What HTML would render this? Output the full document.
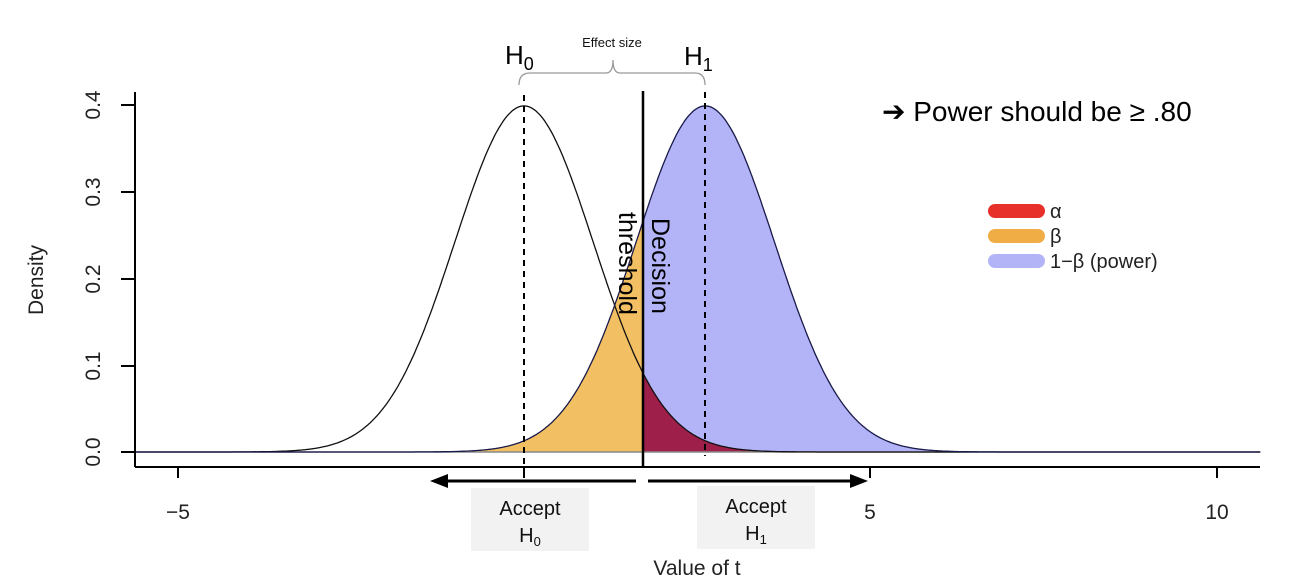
<!DOCTYPE html>
<html><head><meta charset="utf-8"><style>
body{margin:0;background:#fff;}
svg{display:block;font-family:"Liberation Sans",Arial,sans-serif;}
</style></head><body>
<svg id="s" width="1292" height="584" viewBox="0 0 1292 584">
<g id="fills"></g>
<line x1="135" y1="452" x2="1260" y2="452" stroke="#888" stroke-width="1.5"/>
<g id="curves"></g>
<line x1="135" y1="92" x2="135" y2="467" stroke="#000" stroke-width="2"/>
<line x1="135" y1="467" x2="1260" y2="467" stroke="#000" stroke-width="2"/>
<g stroke="#000" stroke-width="2">
<line x1="121" y1="105" x2="135" y2="105"/><line x1="121" y1="192" x2="135" y2="192"/>
<line x1="121" y1="279" x2="135" y2="279"/><line x1="121" y1="366" x2="135" y2="366"/>
<line x1="121" y1="452" x2="135" y2="452"/>
<line x1="178" y1="467" x2="178" y2="478"/><line x1="524" y1="467" x2="524" y2="478"/>
<line x1="870" y1="467" x2="870" y2="478"/><line x1="1217" y1="467" x2="1217" y2="478"/>
</g>
<g font-size="21" fill="#222" text-anchor="middle">
<text transform="translate(100,105) rotate(-90)">0.4</text>
<text transform="translate(100,192) rotate(-90)">0.3</text>
<text transform="translate(100,279) rotate(-90)">0.2</text>
<text transform="translate(100,366) rotate(-90)">0.1</text>
<text transform="translate(100,452) rotate(-90)">0.0</text>
<text transform="translate(43,280) rotate(-90)">Density</text>
<text x="178" y="519">−5</text><text x="870" y="519">5</text><text x="1217" y="519">10</text>
<text x="697" y="575">Value of t</text>
</g>
<line x1="524" y1="95" x2="524" y2="480" stroke="#000" stroke-width="2" stroke-dasharray="6,5"/>
<line x1="705" y1="92" x2="705" y2="456" stroke="#000" stroke-width="2" stroke-dasharray="6,5"/>
<line x1="643" y1="91" x2="643" y2="467" stroke="#000" stroke-width="2.5"/>
<line x1="445" y1="481" x2="636" y2="481" stroke="#000" stroke-width="3"/>
<polygon points="430,481 448,474 448,488" fill="#000"/>
<line x1="648" y1="481" x2="852" y2="481" stroke="#000" stroke-width="3"/>
<polygon points="868,481 850,474 850,488" fill="#000"/>
<rect x="471" y="488" width="118" height="63" fill="#f2f2f2"/>
<rect x="697" y="486" width="118" height="63" fill="#f2f2f2"/>
<g font-size="20" fill="#111" text-anchor="middle">
<text x="530" y="515">Accept</text><text x="530" y="542">H<tspan font-size="13" dy="4">0</tspan></text>
<text x="756" y="513">Accept</text><text x="756" y="540">H<tspan font-size="13" dy="4">1</tspan></text>
</g>
<path d="M519,85 Q519,73 530,73 L606,73 Q613,73 613,60 Q613,73 620,73 L695,73 Q705,73 705,85" fill="none" stroke="#999" stroke-width="1.3"/>
<text x="612" y="47" font-size="13" text-anchor="middle" fill="#111">Effect size</text>
<text x="505" y="64" font-size="26" fill="#000">H<tspan font-size="18" dy="6">0</tspan></text>
<text x="684" y="65" font-size="26" fill="#000">H<tspan font-size="18" dy="6">1</tspan></text>
<text x="882" y="121" font-size="28" fill="#000">➔ Power should be ≥ .80</text>
<text transform="translate(652,218) rotate(90)" font-size="25" fill="#000">Decision</text>
<text transform="translate(619,212) rotate(90)" font-size="25" fill="#000">threshold</text>
<line x1="995" y1="211" x2="1038" y2="211" stroke="#e8302a" stroke-width="14" stroke-linecap="round"/>
<line x1="995" y1="236" x2="1038" y2="236" stroke="#f0ad45" stroke-width="14" stroke-linecap="round"/>
<line x1="995" y1="261" x2="1038" y2="261" stroke="#b3b3f7" stroke-width="14" stroke-linecap="round"/>
<g font-size="20" fill="#222">
<text x="1050" y="218">α</text><text x="1050" y="243">β</text><text x="1050" y="268">1−β (power)</text>
</g>
</svg>
<script>
var X=function(t){return 524+69.2*t},Y=function(d){return 452-867.5*d};
function pdf(t,m){return Math.exp(-0.5*(t-m)*(t-m))/Math.sqrt(2*Math.PI);}
var m1=2.62,th=1.72,A=-5.62,B=10.64;
function path(a,b,m,close){var s="";for(var t=a;t<=b+1e-9;t+=0.02){s+=(s?"L":"M")+X(t).toFixed(1)+","+Y(pdf(t,m)).toFixed(1);}
 if(close){s+="L"+X(b)+","+Y(0)+"L"+X(a)+","+Y(0)+"Z";}return s;}
var f=document.getElementById("fills"),c=document.getElementById("curves"),ns="http://www.w3.org/2000/svg";
function add(g,d,fill,stroke,w){var p=document.createElementNS(ns,"path");p.setAttribute("d",d);p.setAttribute("fill",fill);p.setAttribute("stroke",stroke);p.setAttribute("stroke-width",w);g.appendChild(p);}
add(f,path(A,th,m1,true),"#f2c062","none",0);
add(f,path(th,B,m1,true),"#b3b3f7","none",0);
add(f,path(th,B,0,true),"#9e1f4a","none",0);
add(c,path(A,B,0,false),"none","#111",1.3);
add(c,path(A,B,m1,false),"none","#1a1a4a",1.3);
</script>
</body></html>
